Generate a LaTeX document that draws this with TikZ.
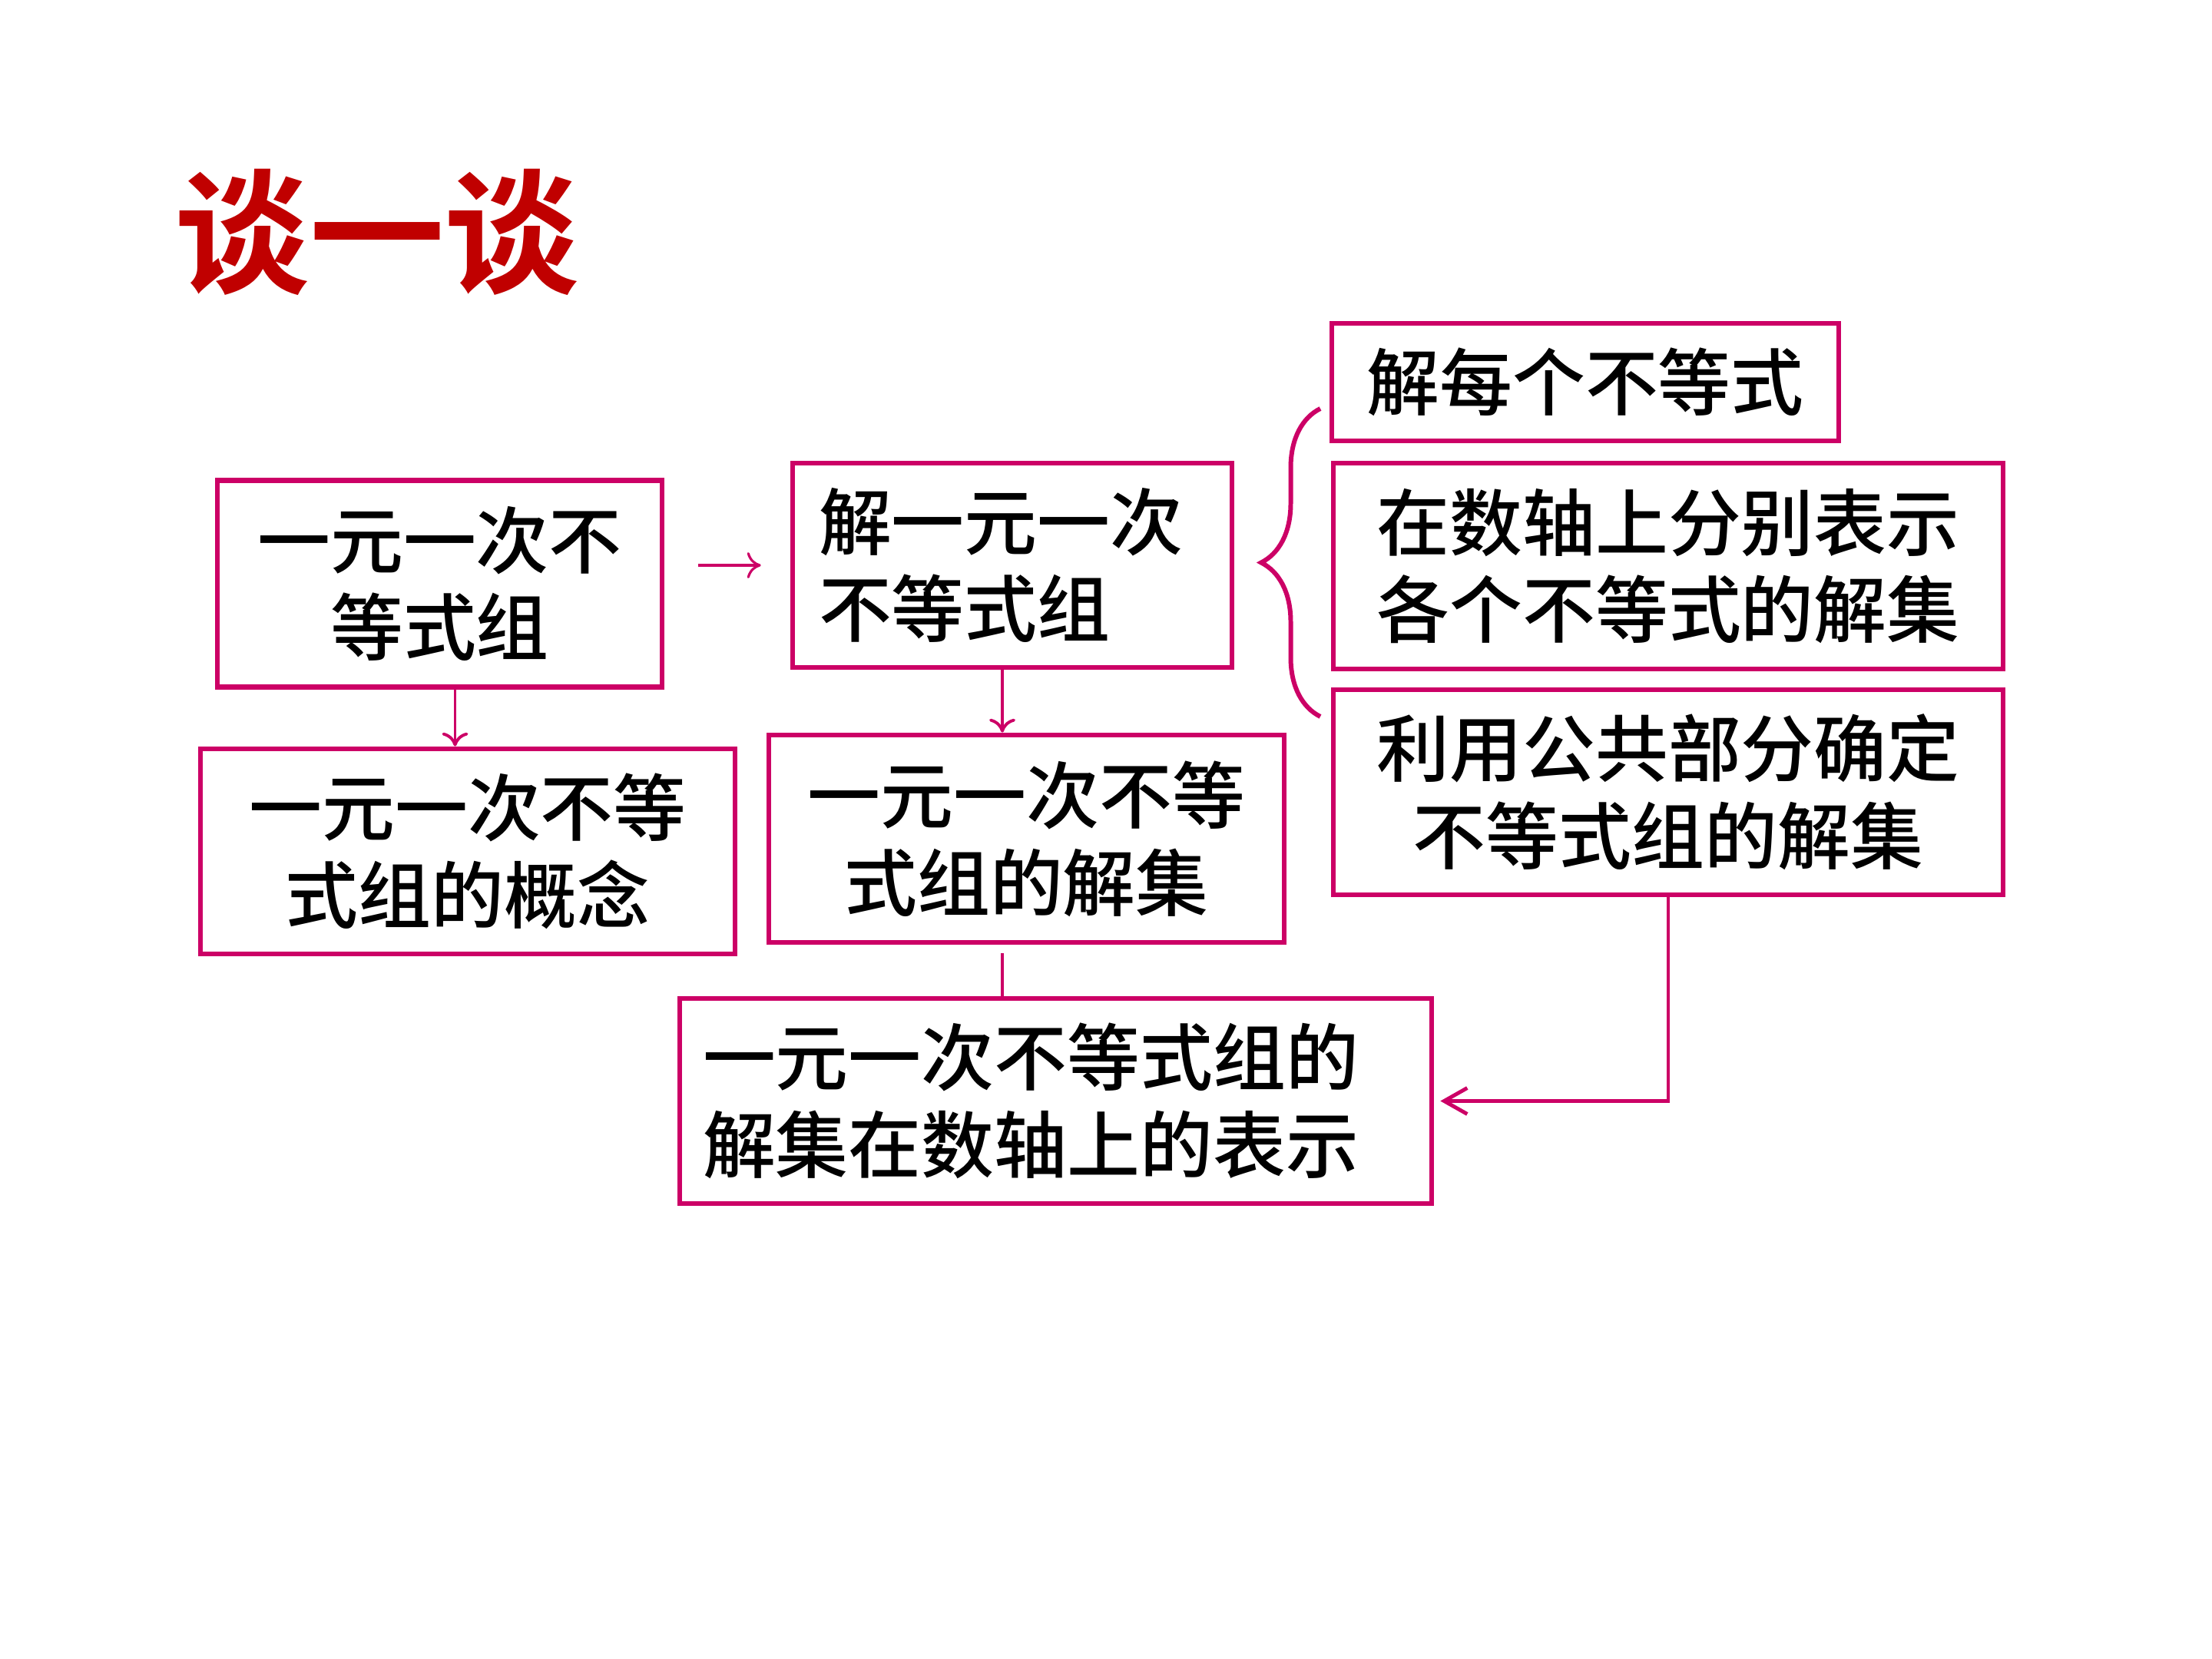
\documentclass[tikz,border=0pt]{standalone}
\usepackage{fontspec}
\newfontfamily\cjk{Noto Sans CJK SC Medium}
\newfontfamily\cjktitle{Noto Sans CJK SC Bold}
\usetikzlibrary{arrows.meta,decorations.pathreplacing}
\definecolor{boxred}{RGB}{204,0,102}
\definecolor{titlered}{RGB}{192,0,0}

\begin{document}
\begin{tikzpicture}[
	box/.style={draw=boxred, line width=1.9pt, inner sep=0pt, align=center,
		font=\cjk\fontsize{27}{32.4}\selectfont},
	leftbox/.style={box, align=left, inner xsep=#1},
	arr/.style={draw=boxred, line width=1.1pt, -{To[length=0.18cm,width=0.34cm]}},
	elbow/.style={draw=boxred, line width=1.4pt, -{Straight Barb[length=0.3cm,width=0.34cm]}},
	bracket/.style={draw=boxred, line width=1.7pt, decorate,
		decoration={brace, amplitude=0.77cm}},
	titletext/.style={text=titlered, font=\cjktitle\fontsize{50}{50}\selectfont}
]
	\useasboundingbox (0,0) rectangle (28.8,-21.6);
	%title
		\node[titletext] (ttl) at (4.91,-3.02) {谈一谈};
	%left column
		\node[box, minimum width=5.79cm, minimum height=2.69cm] (sys) at (5.725,-7.60)
			{一元一次不\\等式组};
		\node[box, minimum width=6.96cm, minimum height=2.67cm] (idea) at (6.09,-11.085)
			{一元一次不等\\式组的概念};
	%middle column
		\node[leftbox=0.34cm, text width=5.04cm, minimum height=2.66cm] (solve) at (13.18,-7.36)
			{解一元一次\\不等式组};
		\node[box, minimum width=6.71cm, minimum height=2.70cm] (sol) at (13.365,-10.92)
			{一元一次不等\\式组的解集};
		\node[leftbox=0.30cm, text width=9.19cm, minimum height=2.67cm] (axis) at (13.745,-14.335)
			{一元一次不等式组的\\解集在数轴上的表示};
	%right column (steps)
		\node[box, minimum width=6.60cm, minimum height=1.53cm] (step1) at (20.64,-4.975)
			{解每个不等式};
		\node[box, minimum width=8.72cm, minimum height=2.68cm] (step2) at (21.72,-7.37)
			{在数轴上分别表示\\各个不等式的解集};
		\node[box, minimum width=8.72cm, minimum height=2.67cm] (step3) at (21.72,-10.315)
			{利用公共部分确定\\不等式组的解集};
	%connectors
		\draw[arr, line width=0.9pt, shorten <=0.44cm, shorten >=0.38cm] (sys.east |- solve) -- (solve.west);
		\draw[arr] ([xshift=0.2cm]sys.south) -- ([xshift=0.2cm]sys.south |- idea.north);
		\draw[arr] ([xshift=-0.13cm]solve.south) -- ([xshift=-0.13cm]solve.south |- sol.north);
		\draw[boxred, line width=1.1pt, shorten <=0.11cm] ([xshift=-0.315cm]sol.south)
			-- ([xshift=-0.315cm]sol.south |- axis.north);
		\draw[elbow, shorten >=0.08cm] (step3.south) |- (axis.east);
	%brace in front of the steps
		\draw[bracket] (17.19,-9.33) -- (17.19,-5.32);
\end{tikzpicture}
\end{document}
